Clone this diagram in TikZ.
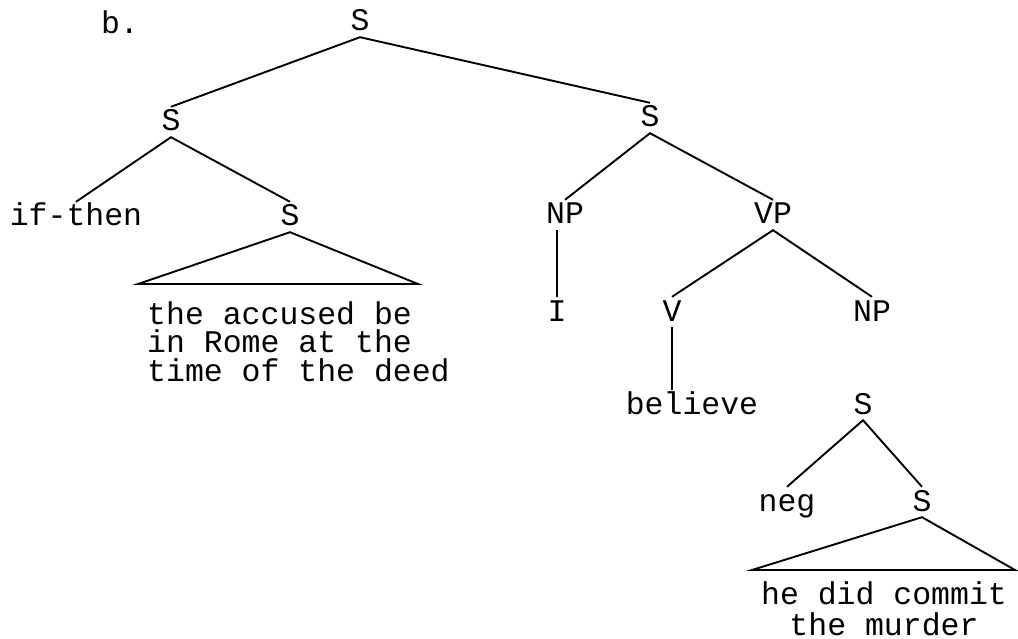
\documentclass[tikz,border=0pt]{standalone}
\usepackage{fontspec}
\setmainfont{Liberation Mono}
\usepackage{tikz}
\usetikzlibrary{positioning,calc}

\begin{document}
\begin{tikzpicture}[x=1pt,y=-1pt,
    lbl/.style={font=\fontsize{31.5}{34}\selectfont, text height=18pt, text depth=0pt, inner sep=6pt},
    words/.style={font=\fontsize{31.5}{28.5}\selectfont, inner sep=0pt},
    branch/.style={line width=1.9pt}]
    \useasboundingbox (0,0) rectangle (1018,639);

    % Category labels
    \node [lbl] (b) at (120,25) {b.};
    \node [lbl] (s0) at (360,22) {S};
    \node [lbl] (s1) at (171,122) {S};
    \node [lbl] (s2) at (650,118) {S};
    \node [lbl] (ifthen) at (76,217) {if-then};
    \node [lbl] (s3) at (290,217) {S};
    \node [lbl] (np1) at (565,215) {NP};
    \node [lbl] (vp) at (773,215) {VP};
    \node [lbl] (i) at (557,312) {I};
    \node [lbl] (v) at (672,312) {V};
    \node [lbl] (np2) at (872,312) {NP};
    \node [lbl] (believe) at (692,405) {believe};
    \node [lbl] (s4) at (863,405) {S};
    \node [lbl] (neg) at (787,502) {neg};
    \node [lbl] (s5) at (922,502) {S};

    % Branches
    \draw [branch] (s1.north) -- (s0.south) -- (s2.north);
    \draw [branch] (ifthen.north) -- (s1.south) -- (s3.north);
    \draw [branch] (np1.north) -- (s2.south) -- (vp.north);
    \draw [branch] (np1.south -| i.north) -- (i.north);
    \draw [branch] (v.north) -- (vp.south) -- (np2.north);
    \draw [branch] (v.south) -- (v.south |- believe.north);
    \draw [branch] (neg.north) -- (s4.south) -- (s5.north);

    % Triangles
    \coordinate (t1l) at (138,284);
    \coordinate (t1r) at (418,284);
    \draw [branch] (s3.south) -- (t1l) -- (t1r) -- cycle;
    \coordinate (t2l) at (752,570);
    \coordinate (t2r) at (1015,570);
    \draw [branch] (s5.south) -- (t2l) -- (t2r) -- cycle;

    % Unanalysed strings
    \node [words, align=left, anchor=north west] (str1) at (147,301)
        {the accused be\\in Rome at the\\time of the deed};
    \node [words, align=center, anchor=north, font=\fontsize{31.5}{31}\selectfont] (str2) at (884,581)
        {he did commit\\the murder};
\end{tikzpicture}
\end{document}
